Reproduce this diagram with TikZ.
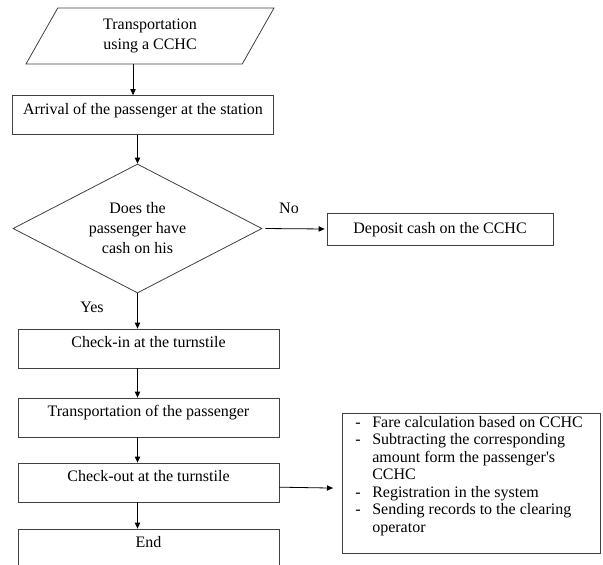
\documentclass[tikz,border=0pt]{standalone}
\usepackage{fontspec}
\setmainfont{Liberation Serif}
\usetikzlibrary{arrows.meta, shapes.geometric, calc}

\tikzset{
  box/.style={draw=black!75, line width=0.6pt, rectangle, minimum width=195.75pt,
    minimum height=29.25pt, text height=9pt, text depth=10.5pt},
  arr/.style={-{Triangle[length=4.5pt,width=4pt]}, line width=0.6pt}
}

\begin{document}
\begin{tikzpicture}[x=0.75pt, y=-0.75pt, every node/.style={font=\fontsize{12}{15}\selectfont}]
			\useasboundingbox (0,0) rectangle (603,564);

			% Start of the chain
			\node[draw=black!75, line width=0.6pt, trapezium, trapezium left angle=47, trapezium right angle=133,
			  trapezium stretches body, minimum width=186pt, minimum height=42pt, align=center, inner sep=0pt]
			  (start) at (150,36) {Transportation\\using a CCHC};
			\node[box] (arrive) at (143,115) {Arrival of the passenger at the station};

			% The question
			\node[draw=black!75, line width=0.6pt, diamond, aspect=1.93, minimum width=186.75pt, minimum height=96.75pt,
			  inner sep=0pt, align=center] (ask) at (137.5,228.5) {Does the\\passenger have\\cash on his};
			\node[box, minimum width=169.5pt, minimum height=24pt, text depth=3pt] (deposit) at (440,229) {Deposit cash on the CCHC};
			\node (no) at (289,208) {No};
			\node (yes) at (92,307) {Yes};

			% The trip
			\node[box] (checkin) at (148.5,348.5) {Check-in at the turnstile};
			\node[box] (trans) at (148.5,417.5) {Transportation of the passenger};
			\node[box] (checkout) at (148.5,482.5) {Check-out at the turnstile};
			\node[box] (stop) at (148.5,548.5) {End};

			% What happens at check-out
			\node[draw=black!75, line width=0.6pt, anchor=north west, minimum width=193.5pt, minimum height=105pt]
			  (tasks) at (342,413) {};
			\node[anchor=north west, inner sep=0pt] (tasklist) at (355,415) {\fontsize{12}{13.1}\selectfont
			  \begin{tabular}{@{}p{12.75pt}@{}l@{}}
			  - & Fare calculation based on CCHC\\
			  - & Subtracting the corresponding\\
			    & amount form the passenger\textquotesingle s\\
			    & CCHC\\
			  - & Registration in the system\\
			  - & Sending records to the clearing\\
			    & operator
			  \end{tabular}};

			% Draw the arrows
			\coordinate (s) at ($(start.south)+(-17,0)$);
			\draw[arr] (s) -- (s |- arrive.north);
			\draw[arr] (ask.north |- arrive.south) -- (ask.north);
			\draw[arr, shorten <=2.25pt, shorten >=1.5pt] (ask.east) -- (deposit.west);
			\draw[arr] (ask.south) -- (ask.south |- checkin.north);
			\draw[arr] (ask.south |- checkin.south) -- (ask.south |- trans.north);
			\draw[arr] (ask.south |- trans.south) -- (ask.south |- checkout.north);
			\draw[arr] (ask.south |- checkout.south) -- (ask.south |- stop.north);
			\draw[arr] ([yshift=-3.5pt]checkout.east) -- ([yshift=-3.5pt, xshift=-6.75pt]tasks.west);

		\end{tikzpicture}
\end{document}
